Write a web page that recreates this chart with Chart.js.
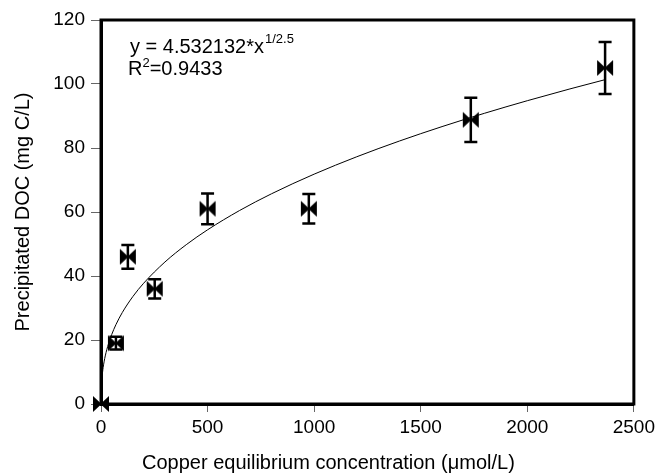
<!DOCTYPE html>
<html><head><meta charset="utf-8">
<script src="https://cdn.jsdelivr.net/npm/chart.js@4.4.0/dist/chart.umd.min.js"></script>
<style>html,body{margin:0;padding:0;background:#fff}#wrap{width:659px;height:473px;position:relative}</style>
</head><body><div id="wrap"><canvas id="c" width="659" height="473"></canvas></div>
<script>
// Data
const copperConc = [0, 70, 126, 252, 500, 975, 1735, 2365];
const precipDOC  = [0, 19, 46, 36, 61, 61, 88.8, 105];
const docError   = [0, 2, 3.7, 3, 4.8, 4.6, 6.9, 8.1];
const xTicks = [0, 500, 1000, 1500, 2000, 2500];
const yTicks = [0, 20, 40, 60, 80, 100, 120];
const xTitle = 'Copper equilibrium concentration (μmol/L)';
const yTitle = 'Precipitated DOC (mg C/L)';
// Fitted model shown on the chart: y = a * x^(1/2.5)
const fitCoef = 4.532132;
const fitExponent = 1 / 2.5;
const fitX = [5, 10, 20, 35, 50, 70, 100, 150, 200, 300, 400, 500, 650, 800, 1000, 1200, 1400, 1600, 1800, 2000, 2200, 2365];

const FONT = "'Liberation Sans', Arial, sans-serif";

function bowtie(){
  const s = 18, c = document.createElement('canvas');
  c.width = s; c.height = s;
  const g = c.getContext('2d');
  g.fillStyle = '#000';
  g.beginPath(); g.moveTo(1,1); g.lineTo(9.5,9); g.lineTo(1,17); g.closePath(); g.fill();
  g.beginPath(); g.moveTo(17,1); g.lineTo(8.5,9); g.lineTo(17,17); g.closePath(); g.fill();
  return c;
}

const errorBars = {
  id: 'errorBars',
  afterDatasetsDraw(chart){
    const ctx = chart.ctx, xs = chart.scales.x, ys = chart.scales.y;
    ctx.save();
    ctx.strokeStyle = '#000'; ctx.lineWidth = 2.5;
    copperConc.forEach((x, i) => {
      const e = docError[i]; if (!e) return;
      const px = xs.getPixelForValue(x);
      const top = ys.getPixelForValue(precipDOC[i] + e);
      const bot = ys.getPixelForValue(precipDOC[i] - e);
      ctx.beginPath();
      ctx.moveTo(px, top); ctx.lineTo(px, bot);
      ctx.moveTo(px - 6.5, top); ctx.lineTo(px + 6.5, top);
      ctx.moveTo(px - 6.5, bot); ctx.lineTo(px + 6.5, bot);
      ctx.stroke();
    });
    ctx.restore();
  }
};

const frame = {
  id: 'frame',
  beforeDatasetsDraw(chart){
    const a = chart.chartArea, ctx = chart.ctx;
    ctx.save();
    ctx.strokeStyle = '#000'; ctx.lineWidth = 3;
    ctx.strokeRect(a.left, a.top, a.right - a.left, a.bottom - a.top);
    ctx.restore();
  },
  afterDraw(chart){
    const a = chart.chartArea, ctx = chart.ctx;
    ctx.save();
    ctx.fillStyle = '#000';
    ctx.textBaseline = 'alphabetic';
    // x-axis title (offset left as in the reference)
    ctx.font = '20px ' + FONT;
    ctx.textAlign = 'left';
    ctx.fillText(xTitle, 142, 469);
    // equation
    const x0 = 130;
    const t1 = 'y = 4.532132*x';
    ctx.fillText(t1, x0, a.top + 33);
    const w1 = ctx.measureText(t1).width;
    ctx.font = '13px ' + FONT;
    ctx.fillText('1/2.5', x0 + w1 + 1, a.top + 23);
    ctx.font = '20px ' + FONT;
    ctx.fillText('R', x0 - 2, a.top + 55);
    const wR = ctx.measureText('R').width;
    ctx.font = '13px ' + FONT;
    ctx.fillText('2', x0 - 2 + wR, a.top + 47);
    const w2 = ctx.measureText('2').width;
    ctx.font = '20px ' + FONT;
    ctx.fillText('=0.9433', x0 - 2 + wR + w2, a.top + 55);
    ctx.restore();
  }
};

new Chart(document.getElementById('c'), {
  type: 'scatter',
  data: {
    datasets: [
      {
        label: 'fit',
        data: fitX.map(x => ({x, y: fitCoef * Math.pow(x, fitExponent)})),
        showLine: true, borderColor: '#000', borderWidth: 1, pointRadius: 0,
        cubicInterpolationMode: 'monotone', order: 2
      },
      {
        label: 'DOC',
        data: copperConc.map((x, i) => ({x, y: precipDOC[i]})),
        pointStyle: bowtie(), pointRadius: 9, clip: false, order: 1
      }
    ]
  },
  options: {
    responsive: false, animation: false,
    layout: {padding: {top: 20, right: 25, left: 7, bottom: 0}},
    plugins: {legend: {display: false}, tooltip: {enabled: false}},
    scales: {
      x: {
        type: 'linear', min: 0, max: 2500,
        afterBuildTicks: s => { s.ticks = xTicks.map(v => ({value: v})); },
        afterFit: s => { s.height = 69; },
        border: {display: true, color: '#000', width: 3},
        grid: {drawOnChartArea: false, drawTicks: true, tickLength: 8, color: '#666', lineWidth: 1},
        ticks: {color: '#000', font: {family: FONT, size: 19}, padding: 4, maxRotation: 0, callback: v => String(v)},
        title: {display: false}
      },
      y: {
        type: 'linear', min: 0, max: 120,
        afterBuildTicks: s => { s.ticks = yTicks.map(v => ({value: v})); },
        afterFit: s => { s.width = 94; },
        border: {display: true, color: '#000', width: 3},
        grid: {drawOnChartArea: false, drawTicks: true, tickLength: 10, color: '#666', lineWidth: 1},
        ticks: {color: '#000', font: {family: FONT, size: 19}, padding: 6, callback: v => String(v)},
        title: {display: true, text: yTitle, color: '#000', font: {family: FONT, size: 20}, padding: {bottom: 4}}
      }
    }
  },
  plugins: [errorBars, frame]
});
</script></body></html>
